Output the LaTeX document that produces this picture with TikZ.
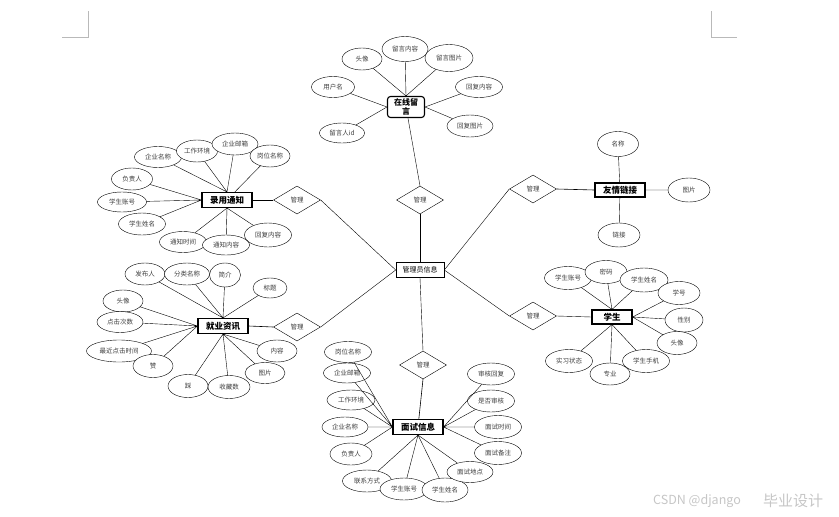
\documentclass[tikz,border=0pt]{standalone}
\usepackage{fontspec}
\setmainfont{Noto Sans CJK SC}
\usetikzlibrary{shapes.geometric}

\begin{document}
\begin{tikzpicture}[
    x=1pt, y=-1pt,
    font=\fontsize{6.5}{7}\selectfont,
    attr/.style={ellipse, draw, thin, fill=white, inner sep=1pt,
        minimum width=46pt, minimum height=22pt, text=black!75},
    entity/.style={rectangle, draw, line width=1.1pt, fill=white, inner sep=1pt,
        minimum width=50pt, minimum height=15pt, font=\fontsize{8.5}{9}\selectfont\bfseries},
    rel/.style={diamond, draw, thin, fill=white, inner sep=0pt,
        minimum width=47pt, minimum height=28pt, text=black!75},
    link/.style={semithick}
]
\useasboundingbox (0,0) rectangle (839,517);
% page corner marks
\draw[gray!55, line width=0.8pt] (62,37) -- (88,37) -- (88,11);
\draw[gray!55, line width=0.8pt] (711,11) -- (711,37) -- (737,37);

% central entity and relations
\node[draw, semithick, minimum width=48pt, minimum height=15pt, inner sep=1pt,
      font=\fontsize{7}{8}\selectfont] (admin) at (420,270) {管理员信息};
\node[rel] (rel-msg) at (420,200) {管理};
\node[rel] (rel-hire) at (297,200) {管理};
\node[rel] (rel-news) at (297,327) {管理};
\node[rel] (rel-intv) at (423,365) {管理};
\node[rel] (rel-link) at (533,189) {管理};
\node[rel] (rel-stu) at (533,316) {管理};

% entities
\node[entity, rounded corners=3pt, minimum width=37pt, minimum height=21pt,
      align=center, font=\fontsize{8}{8.5}\selectfont\bfseries] (msg) at (406,107) {在线留\\言};
\node[entity] (hire) at (227,200) {录用通知};
\node[entity] (news) at (223,326) {就业资讯};
\node[entity] (intv) at (418,427) {面试信息};
\node[entity, minimum height=14pt] (flink) at (620,190) {友情链接};
\node[entity, minimum width=40pt, minimum height=14pt] (stu) at (612,317) {学生};

\draw (admin.north) -- (rel-msg.south);
\draw (admin.west) -- (rel-hire.east);
\draw (admin.west) -- (rel-news.east);
\draw (admin.south) -- (rel-intv.north);
\draw (admin.east) -- (rel-link.west);
\draw (admin.east) -- (rel-stu.west);
\draw (msg) -- (rel-msg.north);
\draw[link] (hire.east) -- (rel-hire.west);
\draw[link] (news.east) -- (rel-news.west);
\draw[link] (intv) -- (rel-intv.south);
\draw[link] (flink.west) -- (rel-link.east);
\draw (stu.west) -- (rel-stu.east);

% 在线留言
\node[attr, minimum width=40pt] (m1) at (362,59) {头像};
\node[attr, minimum height=25pt] (m2) at (405,49) {留言内容};
\node[attr, minimum width=48pt, minimum height=27pt] (m3) at (449,58) {留言图片};
\node[attr, minimum width=43pt, minimum height=21pt] (m4) at (333,87) {用户名};
\node[attr, minimum width=47pt, minimum height=21pt] (m5) at (479,87) {回复内容};
\node[attr, minimum width=45pt, minimum height=20pt] (m6) at (342,133) {留言人id};
\node[attr] (m7) at (470,126) {回复图片};
\draw (m1) -- (msg.north) (m2) -- (msg.north) (m3) -- (msg.north);
\draw (m4) -- (msg.west) (m6) -- (msg.west);
\draw (m5) -- (msg.east) (m7) -- (msg.east);

% 录用通知
\node[attr, minimum width=47pt, minimum height=21pt] (h1) at (158,157) {企业名称};
\node[attr, minimum width=41pt] (h2) at (197,151) {工作环境};
\node[attr] (h3) at (235,144) {企业邮箱};
\node[attr, minimum width=40pt] (h4) at (270,156) {岗位名称};
\node[attr, minimum width=41pt] (h5) at (132,179) {负责人};
\node[attr, minimum width=49pt, minimum height=20pt] (h6) at (122,202) {学生账号};
\node[attr, minimum width=47pt] (h7) at (142,224) {学生姓名};
\node[attr, minimum width=47pt, minimum height=21pt] (h8) at (183,242) {通知时间};
\node[attr, minimum width=47pt, minimum height=20pt] (h9) at (226,245) {通知内容};
\node[attr, minimum width=47pt, minimum height=24pt] (h10) at (268,235) {回复内容};
\draw (h1) -- (hire.north) (h2) -- (hire.north) (h3) -- (hire.north) (h4) -- (hire);
\draw (h5) -- (hire.west) (h6) -- (hire.west) (h7) -- (hire.west);
\draw (h8) -- (hire.south) (h9) -- (hire.south) (h10) -- (hire.south);

% 就业资讯
\node[attr, minimum width=40pt] (n1) at (145,274) {发布人};
\node[attr, minimum width=45pt] (n2) at (187,274) {分类名称};
\node[attr, minimum width=31pt, minimum height=24pt] (n3) at (225,275) {简介};
\node[attr, minimum width=34pt, minimum height=20pt] (n4) at (270,288) {标题};
\node[attr, minimum width=40pt] (n5) at (123,301) {头像};
\node[attr, minimum height=21pt] (n6) at (120,322) {点击次数};
\node[attr, minimum width=65pt] (n7) at (119,351) {最近点击时间};
\node[attr, minimum width=40pt, minimum height=23pt] (n8) at (153,366) {赞};
\node[attr, minimum width=40pt, minimum height=23pt] (n9) at (188,386) {踩};
\node[attr, minimum width=42pt, minimum height=23pt] (n10) at (229,387) {收藏数};
\node[attr, minimum width=40pt, minimum height=21pt] (n11) at (265,373) {图片};
\node[attr, minimum width=40pt] (n12) at (277,351) {内容};
\draw (n1) -- (news.north) (n2) -- (news.north) (n3) -- (news.north) (n4) -- (news.north);
\draw (n5) -- (news.west) (n6) -- (news.west) (n7) -- (news.west) (n8) -- (news.west);
\draw (n9) -- (news.south) (n10) -- (news.south) (n11) -- (news.south) (n12) -- (news.south);

% 面试信息
\node[attr, minimum width=47pt, minimum height=21pt] (i1) at (348,352) {岗位名称};
\node[attr, minimum width=47pt, minimum height=20pt] (i2) at (347,373) {企业邮箱};
\node[attr, minimum width=48pt, minimum height=20pt] (i3) at (351,400) {工作环境};
\node[attr, minimum height=20pt] (i4) at (345,427) {企业名称};
\node[attr, minimum width=42pt] (i5) at (351,454) {负责人};
\node[attr, minimum width=49pt] (i6) at (367,481) {联系方式};
\node[attr, minimum width=48pt] (i7) at (404,489) {学生账号};
\node[attr, minimum height=24pt] (i8) at (445,490) {学生姓名};
\node[attr, minimum height=21pt] (i9) at (470,472) {面试地点};
\node[attr, minimum width=47pt, minimum height=23pt] (i10) at (498,453) {面试备注};
\node[attr, minimum width=47pt, minimum height=23pt] (i11) at (498,427) {面试时间};
\node[attr, minimum width=47pt] (i12) at (491,401) {是否审核};
\node[attr, minimum width=47pt] (i13) at (491,374) {审核回复};
\draw (i1) -- (intv.west) (i2) -- (intv.west) (i3) -- (intv.west) (i4) -- (intv.west) (i5) -- (intv.west);
\draw (i6) -- (intv.south) (i7) -- (intv.south) (i8) -- (intv.south) (i9) -- (intv.south);
\draw (i10) -- (intv.east) (i11) -- (intv.east) (i12) -- (intv.east) (i13) -- (intv.east);

% 友情链接
\node[attr, minimum width=41pt, minimum height=25pt] (k1) at (618,144) {名称};
\node[attr, minimum width=42pt, minimum height=24pt] (k2) at (689,190) {图片};
\node[attr, minimum width=42pt, minimum height=24pt] (k3) at (619,235) {链接};
\draw (k1) -- (flink) (k2) -- (flink) (k3) -- (flink);

% 学生
\node[attr, minimum width=47pt, minimum height=23pt] (s1) at (568,278) {学生账号};
\node[attr, minimum width=42pt, minimum height=23pt] (s2) at (606,272) {密码};
\node[attr, minimum width=48pt, minimum height=24pt] (s3) at (644,280) {学生姓名};
\node[attr, minimum width=42pt, minimum height=23pt] (s4) at (679,293) {学号};
\node[attr, minimum width=38pt, minimum height=24pt] (s5) at (684,320) {性别};
\node[attr, minimum width=40pt, minimum height=23pt] (s6) at (677,343) {头像};
\node[attr, minimum width=47pt, minimum height=23pt] (s7) at (646,361) {学生手机};
\node[attr, minimum width=40pt] (s8) at (610,374) {专业};
\node[attr, minimum width=47pt, minimum height=23pt] (s9) at (569,361) {实习状态};
\draw (s1) -- (stu.north) (s2) -- (stu.north) (s3) -- (stu.north);
\draw (s4) -- (stu.east) (s5) -- (stu.east) (s6) -- (stu.east);
\draw (s7) -- (stu.south) (s8) -- (stu.south) (s9) -- (stu.south);

% watermark
\node[anchor=west, inner sep=0pt, text=gray!45, font=\fontsize{12.5}{13}\selectfont] (wm1) at (653,501) {CSDN @django};
\node[anchor=west, inner sep=0pt, text=gray!45, font=\fontsize{15}{16}\selectfont] (wm2) at (763,501) {毕业设计};
\end{tikzpicture}
\end{document}
